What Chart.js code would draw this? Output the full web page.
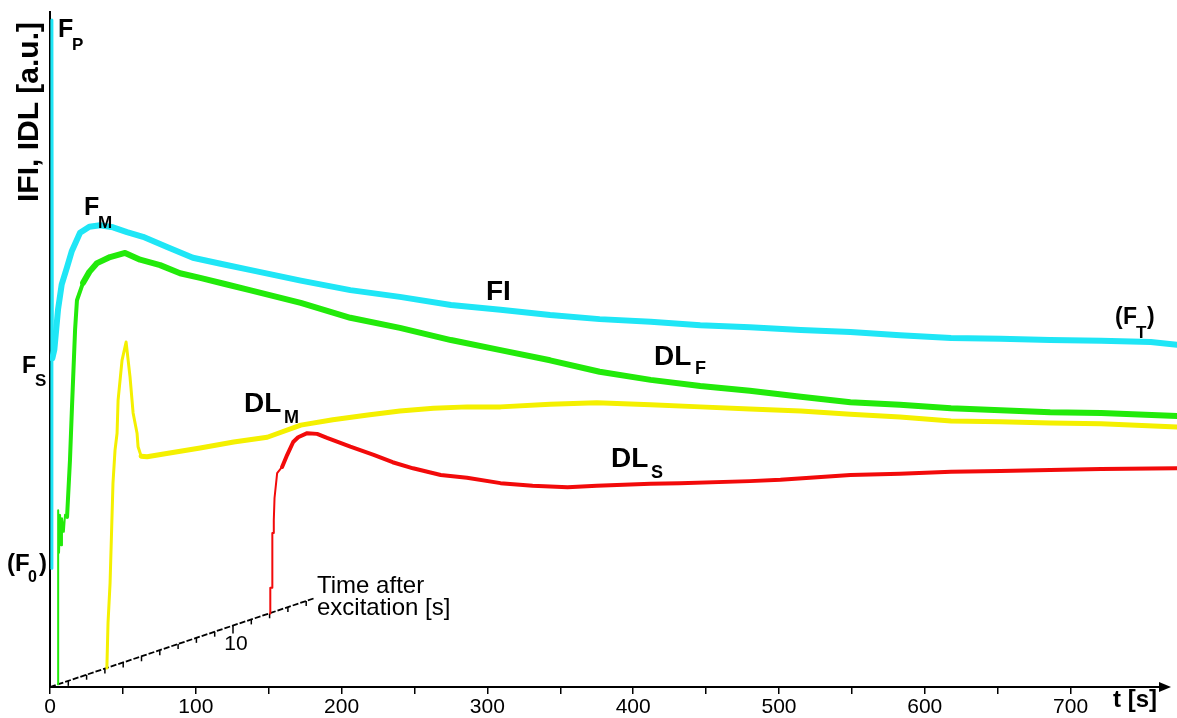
<!DOCTYPE html>
<html><head><meta charset="utf-8">
<script src="https://cdn.jsdelivr.net/npm/chart.js@4.4.1/dist/chart.umd.min.js"></script>
<style>html,body{margin:0;padding:0;background:#fff;}canvas{display:block;}</style>
</head><body>
<canvas id="c" width="1177" height="718"></canvas>
<script>
// ---- data (t in s, intensity in a.u.) ----
const fiT = [1.2, 1.3, 1.6, 3, 5.5, 8, 11.7, 15, 20.6, 27, 34.3, 43.2, 52.8, 63.8, 80.3, 98, 117, 137, 172, 206, 240, 275, 309, 343, 377, 412, 446, 480, 515, 549, 583, 618, 652, 686, 721, 755, 773];
const fiV = [17.6, 98.8, 48.7, 50.0, 55.9, 59.6, 62.2, 64.6, 67.3, 68.2, 68.4, 68.1, 67.4, 66.7, 65.2, 63.6, 62.7, 61.8, 60.2, 58.8, 57.8, 56.6, 55.9, 55.1, 54.5, 54.1, 53.6, 53.3, 52.9, 52.6, 52.1, 51.7, 51.6, 51.4, 51.3, 51.1, 50.7];

const dlfT = [5.5, 5.6, 6.2, 6.9, 7.6, 8.2, 9.5, 10.3, 11.7, 13.7, 15.1, 17.2, 18.5, 22.7, 27, 32.3, 41.2, 51.5, 61.8, 75.5, 89.2, 103, 120, 137, 172, 206, 240, 275, 309, 343, 377, 412, 446, 480, 515, 549, 583, 618, 652, 686, 721, 773];
const dlfV = [0.4, 26.2, 19.9, 25.5, 21.0, 25.0, 23.0, 25.5, 25.2, 33.6, 41.6, 52.9, 57.3, 59.9, 61.5, 62.8, 63.7, 64.3, 63.3, 62.5, 61.3, 60.6, 59.7, 58.8, 56.9, 54.7, 53.2, 51.4, 49.9, 48.4, 46.7, 45.5, 44.6, 43.9, 43.0, 42.2, 41.8, 41.3, 41.0, 40.7, 40.6, 40.15];

const dlmT = [39.0, 39.8, 41.2, 43.2, 44.6, 46, 46.7, 49.4, 52.2, 54.9, 57, 59.7, 60.4, 62.5, 66.6, 80, 103, 126, 149, 172, 194, 218, 240, 263, 286, 309, 343, 375, 412, 446, 480, 515, 549, 583, 618, 652, 686, 721, 773];
const dlmV = [2.8, 9.5, 15.4, 30.2, 35.1, 37.6, 42.5, 48.4, 51.1, 45.9, 40.6, 37.6, 35.6, 34.2, 34.1, 34.6, 35.4, 36.3, 37.0, 38.8, 39.6, 40.3, 40.9, 41.3, 41.5, 41.5, 41.9, 42.1, 41.8, 41.5, 41.2, 40.9, 40.4, 40.0, 39.4, 39.3, 39.1, 39.0, 38.5];

const dlsT = [151, 151.1, 152.4, 152.5, 153.2, 153.5, 154, 155.8, 159.2, 162.7, 166.8, 170.2, 176.4, 183.2, 190, 206, 222, 235, 249, 268, 286, 309, 331, 355, 375, 412, 432, 480, 501, 549, 583, 618, 652, 686, 721, 773];
const dlsV = [10.9, 14.7, 14.7, 22.8, 22.8, 24.7, 28.0, 31.7, 32.6, 34.4, 36.3, 37.0, 37.6, 37.5, 36.9, 35.6, 34.4, 33.3, 32.4, 31.4, 31.0, 30.2, 29.8, 29.6, 29.8, 30.1, 30.2, 30.5, 30.7, 31.4, 31.6, 31.9, 32.0, 32.15, 32.3, 32.4];

// x axis ticks
const xMin = 0, xMax = 773, xStep = 50, xLastTick = 700;
const xLabelEvery = 100;
// inset "time after excitation" axis (seconds), placed in main-chart units
const insetTicks = [1,2,3,4,5,6,7,8,9,10,11,12,13,14];
const insetExtent = 14.5;
const insetEnd = {t: 182, v: 13.2};
const insetLabel = 10;

const FONT = '"Liberation Sans", Arial, Helvetica, sans-serif';
const pts = (T, V) => T.map((t, i) => ({x: t, y: V[i]}));

const textPlugin = {
  id: 'texts',
  beforeDatasetsDraw(chart) {
    const ctx = chart.ctx, xs = chart.scales.x, ys = chart.scales.y;
    const P = s => ({x: xs.getPixelForValue(insetEnd.t * s / insetExtent), y: ys.getPixelForValue(insetEnd.v * s / insetExtent)});
    ctx.save();
    ctx.strokeStyle = '#000';
    ctx.lineWidth = 1.8;
    ctx.setLineDash([6, 2]);
    const a = P(0), b = P(insetExtent);
    ctx.beginPath(); ctx.moveTo(a.x, a.y); ctx.lineTo(b.x, b.y); ctx.stroke();
    ctx.setLineDash([]);
    ctx.lineWidth = 1.5;
    insetTicks.forEach(s => {
      const p = P(s);
      ctx.beginPath(); ctx.moveTo(p.x, p.y); ctx.lineTo(p.x, p.y + (s === insetLabel ? 8 : 5)); ctx.stroke();
    });
    const pl = P(insetLabel);
    ctx.fillStyle = '#000';
    ctx.font = '21px ' + FONT;
    ctx.textAlign = 'center';
    ctx.textBaseline = 'alphabetic';
    ctx.fillText(String(insetLabel), pl.x + 3, pl.y + 24);
    ctx.restore();
  },
  afterDraw(chart) {
    const ctx = chart.ctx, area = chart.chartArea;
    ctx.save();
    // x axis with arrow
    ctx.strokeStyle = '#000'; ctx.fillStyle = '#000';
    ctx.lineWidth = 2;
    ctx.beginPath(); ctx.moveTo(area.left, area.bottom); ctx.lineTo(1162, area.bottom); ctx.stroke();
    ctx.beginPath(); ctx.moveTo(1171, area.bottom); ctx.lineTo(1159, area.bottom - 5); ctx.lineTo(1159, area.bottom + 5); ctx.closePath(); ctx.fill();

    ctx.textAlign = 'left'; ctx.textBaseline = 'alphabetic';
    const T = (s, x, y, f) => { ctx.font = f + ' ' + FONT; ctx.fillText(s, x, y); };
    // F labels
    T('F', 58, 37, 'bold 25px'); T('P', 72, 50, 'bold 17px');
    T('F', 84, 215, 'bold 25px'); T('M', 98, 228, 'bold 17px');
    T('F', 22, 373, 'bold 23px'); T('S', 35, 386, 'bold 17px');
    T('(', 7, 571, 'bold 24px'); T('F', 15, 571, 'bold 24px'); T('0', 28, 582, 'bold 16px'); T(')', 39, 571, 'bold 24px');
    T('(', 1115, 324, 'bold 23px'); T('F', 1123, 324, 'bold 23px'); T('T', 1136, 338, 'bold 17px'); T(')', 1147, 324, 'bold 23px');
    // series labels
    T('FI', 486, 300, 'bold 28px');
    T('DL', 654, 365, 'bold 28px'); T('F', 695, 374, 'bold 18px');
    T('DL', 244, 412, 'bold 28px'); T('M', 284, 423, 'bold 18px');
    T('DL', 611, 467, 'bold 28px'); T('S', 651, 478, 'bold 18px');
    // inset axis title
    T('Time after', 317, 593, '24px');
    T('excitation [s]', 317, 615, '24px');
    // x axis title
    T('t [s]', 1113, 707, 'bold 24px');
    // y axis title (rotated)
    ctx.translate(38, 22);
    ctx.rotate(-Math.PI / 2);
    ctx.textAlign = 'right';
    ctx.font = 'bold 30px ' + FONT;
    ctx.fillText('IFI, IDL [a.u.]', 0, 0);
    ctx.restore();
  }
};

new Chart(document.getElementById('c'), {
  type: 'line',
  data: {
    datasets: [
      {label: 'FI', data: pts(fiT, fiV), borderColor: '#1fe6f6',
        segment: {borderWidth: c => c.p0.parsed.x < 1.5 ? 3 : 6}},
      {label: 'DLF', data: pts(dlfT, dlfV), borderColor: '#22ea0a',
        segment: {borderWidth: c => c.p0.parsed.x < 11 ? 2 : (c.p0.parsed.x < 20 ? 4 : 6)}},
      {label: 'DLM', data: pts(dlmT, dlmV), borderColor: '#f4f000',
        segment: {borderWidth: c => c.p0.parsed.x < 62 ? 3 : 5}},
      {label: 'DLS', data: pts(dlsT, dlsV), borderColor: '#f20a0a',
        segment: {borderWidth: c => c.p0.parsed.x < 156 ? 2 : 4}}
    ]
  },
  options: {
    responsive: false,
    animation: false,
    events: [],
    layout: {padding: {top: 12, right: 0, left: 0, bottom: 0}},
    elements: {point: {radius: 0}, line: {tension: 0, borderJoinStyle: 'round', borderCapStyle: 'round', fill: false}},
    plugins: {legend: {display: false}, tooltip: {enabled: false}},
    scales: {
      x: {
        type: 'linear', min: xMin, max: xMax,
        afterFit: s => { s.height = 31; },
        afterBuildTicks: s => { s.ticks = s.ticks.filter(t => t.value <= xLastTick); },
        border: {display: false},
        grid: {display: true, drawOnChartArea: false, drawTicks: true, tickLength: 7, color: '#000', lineWidth: 1.5},
        ticks: {stepSize: xStep, autoSkip: false, maxRotation: 0, padding: 1, color: '#000',
          font: {size: 21, family: FONT},
          callback: v => (v % xLabelEvery === 0 ? String(v) : '')}
      },
      y: {
        type: 'linear', min: 0, max: 100,
        afterFit: s => { s.width = 50; },
        border: {display: true, color: '#000', width: 2},
        grid: {display: false},
        ticks: {display: false}
      }
    }
  },
  plugins: [textPlugin]
});
</script>
</body></html>
